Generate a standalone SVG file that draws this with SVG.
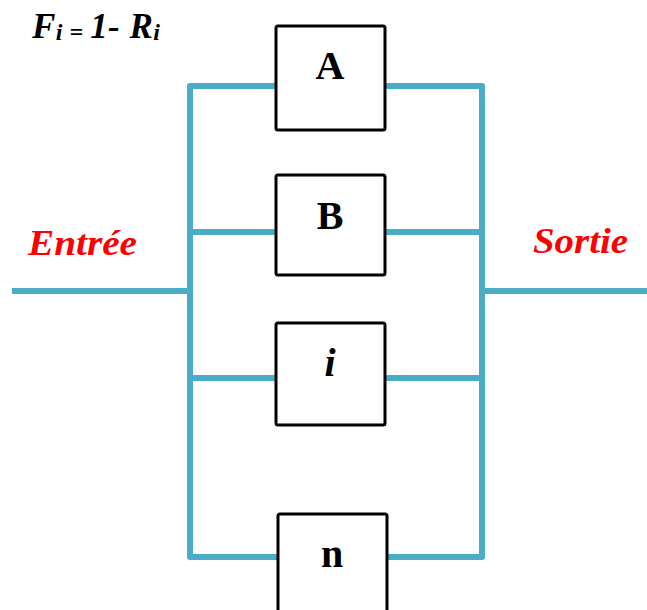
<svg xmlns="http://www.w3.org/2000/svg" width="647" height="610" viewBox="0 0 647 610">
  <style>
    .wire { fill: none; stroke: #4BACC6; stroke-width: 6; stroke-linejoin: round; stroke-linecap: butt; }
    .box { fill: #FFFFFF; stroke: #000000; stroke-width: 3; }
    .lbl { font-family: "Liberation Serif", "Times New Roman", serif; font-weight: bold; font-size: 40px; fill: #000000; text-anchor: middle; }
    .io { font-family: "Liberation Serif", "Times New Roman", serif; font-weight: bold; font-style: italic; font-size: 35px; fill: #FF0000; }
    .eq { font-family: "Liberation Serif", "Times New Roman", serif; font-weight: bold; font-style: italic; fill: #000000; }
  </style>

  <g id="connectors">
    <!-- input and output lines -->
    <line class="wire" x1="12" y1="291" x2="190" y2="291"/>
    <line class="wire" x1="482" y1="291" x2="647" y2="291"/>
    <!-- left bus with branches -->
    <path class="wire" d="M 277 86 H 190 V 557 H 277"/>
    <line class="wire" x1="190" y1="232" x2="277" y2="232"/>
    <line class="wire" x1="190" y1="378" x2="277" y2="378"/>
    <!-- right bus with branches -->
    <path class="wire" d="M 385 86 H 482 V 557 H 385"/>
    <line class="wire" x1="385" y1="232" x2="482" y2="232"/>
    <line class="wire" x1="385" y1="378" x2="482" y2="378"/>
  </g>

  <g id="formula">
    <text class="eq" x="32" y="38" font-size="35" textLength="128" lengthAdjust="spacing">F<tspan font-size="24" dy="2">i = </tspan><tspan dy="-2">1- R</tspan><tspan font-size="24" dy="2">i</tspan></text>
  </g>

  <g id="entree">
    <text class="io" x="28" y="255" textLength="109" lengthAdjust="spacingAndGlyphs">Entrée</text>
  </g>
  <g id="sortie">
    <text class="io" x="533" y="253" textLength="95" lengthAdjust="spacingAndGlyphs">Sortie</text>
  </g>

  <g id="node-A">
    <rect class="box" x="276" y="26" width="109" height="104" rx="2"/>
    <text class="lbl" x="330" y="79">A</text>
  </g>
  <g id="node-B">
    <rect class="box" x="276" y="175" width="109" height="100" rx="2"/>
    <text class="lbl" x="330" y="229">B</text>
  </g>
  <g id="node-i">
    <rect class="box" x="276" y="323" width="109" height="102" rx="2"/>
    <text class="lbl" x="330" y="376" font-style="italic">i</text>
  </g>
  <g id="node-n">
    <rect class="box" x="278" y="514" width="109" height="110" rx="2"/>
    <text class="lbl" x="332" y="567">n</text>
  </g>
</svg>
